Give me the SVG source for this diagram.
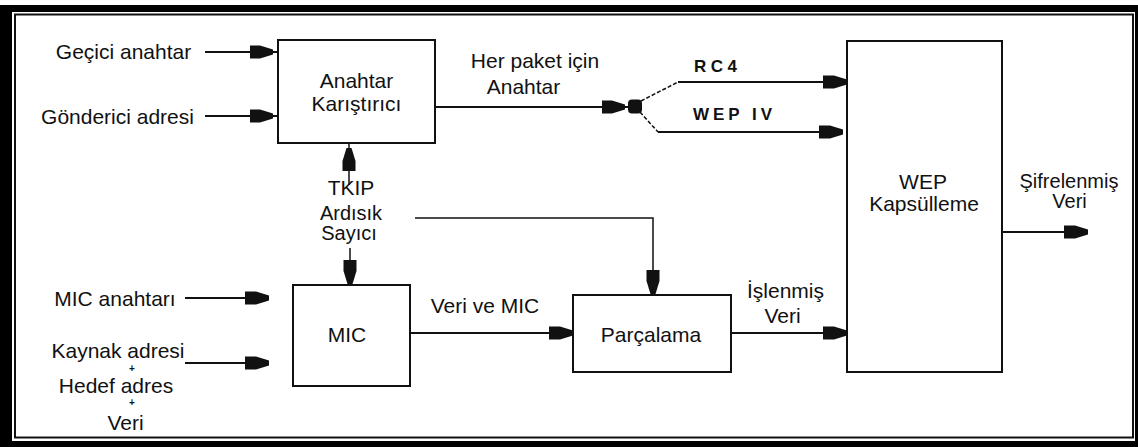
<svg xmlns="http://www.w3.org/2000/svg" width="1138" height="447" viewBox="0 0 1138 447">
<style>
  text { font-family: "Liberation Sans", Arial, sans-serif; font-size: 21px; fill: #111; text-anchor: middle; }
  .small { font-size: 10px; font-weight: bold; }
  .tight { font-size: 20px; }
  .px { font-weight: bold; font-size: 17px; text-anchor: start; }
  .box { fill: #fff; stroke: #111; stroke-width: 2; }
  .ln { fill: none; stroke: #111; stroke-width: 2; }
  .thin { fill: none; stroke: #111; stroke-width: 1.5; }
  .dash { fill: none; stroke: #111; stroke-width: 1.5; stroke-dasharray: 4 2; }
</style>
<defs>
  <marker id="ah" markerWidth="30" markerHeight="16" viewBox="-28 -8 30 16" refX="0" refY="0" orient="auto" markerUnits="userSpaceOnUse">
    <path d="M-24,-6.5 H-13 L0,-2.5 V2.5 L-13,6.5 H-24 Z" fill="#111"/>
  </marker>
  <marker id="ahg" markerWidth="34" markerHeight="16" viewBox="-32 -8 34 16" refX="0" refY="0" orient="auto" markerUnits="userSpaceOnUse">
    <path d="M-28,-6.5 H-18 L-5,-2.5 V2.5 L-18,6.5 H-28 Z" fill="#111"/>
  </marker>
</defs>
<rect x="0" y="0" width="1138" height="447" fill="#fff"/>
<g id="frame">
  <rect x="0" y="5" width="1138" height="442" fill="#000"/>
  <rect x="12" y="12" width="1123" height="429" fill="#fff"/>
  <rect x="15" y="14.5" width="1118" height="423" fill="#fff" stroke="#111" stroke-width="2"/>
</g>
<g id="connectors">
  <line class="ln" x1="205" y1="52" x2="278" y2="52" marker-end="url(#ahg)"/>
  <line class="ln" x1="205" y1="116" x2="278" y2="116" marker-end="url(#ahg)"/>
  <line class="ln" x1="435" y1="107" x2="630" y2="107" marker-end="url(#ahg)"/>
  <rect x="628" y="99.5" width="14" height="14" rx="4" fill="#111"/>
  <line class="dash" x1="641" y1="101" x2="678" y2="82"/>
  <line class="ln" x1="678" y1="82" x2="847" y2="82" marker-end="url(#ah)"/>
  <line class="dash" x1="640" y1="112" x2="658" y2="132"/>
  <line class="ln" x1="658" y1="132" x2="843" y2="132" marker-end="url(#ah)"/>
  <line class="thin" x1="349" y1="185" x2="349" y2="143" marker-end="url(#ahg)"/>
  <line class="thin" x1="350" y1="248" x2="350" y2="284" marker-end="url(#ah)"/>
  <line class="ln" x1="185" y1="298" x2="269" y2="298" marker-end="url(#ah)"/>
  <line class="ln" x1="185" y1="363" x2="269" y2="363" marker-end="url(#ah)"/>
  <line class="ln" x1="410" y1="333" x2="573" y2="333" marker-end="url(#ah)"/>
  <path class="thin" d="M415,218 H653 V294" marker-end="url(#ah)"/>
  <line class="ln" x1="731" y1="333" x2="847" y2="333" marker-end="url(#ah)"/>
  <line class="ln" x1="1002" y1="232" x2="1088" y2="232" marker-end="url(#ah)"/>
</g>
<g id="anahtar-karistirici">
  <rect class="box" x="278" y="40" width="157" height="103"/>
  <text x="356.5" y="88">Anahtar</text>
  <text x="356.5" y="111">Karıştırıcı</text>
</g>
<g id="mic">
  <rect class="box" x="293" y="285" width="117" height="101"/>
  <text x="347" y="342" font-size="19">MIC</text>
</g>
<g id="parcalama">
  <rect class="box" x="573" y="295" width="158" height="77"/>
  <text x="651" y="342">Parçalama</text>
</g>
<g id="wep-kapsulleme">
  <rect class="box" x="847" y="41" width="155" height="331"/>
  <text x="923" y="189">WEP</text>
  <text x="924" y="211">Kapsülleme</text>
</g>
<g id="labels">
  <text x="123.5" y="59">Geçici anahtar</text>
  <text x="117.5" y="124">Gönderici adresi</text>
  <text x="535" y="68">Her paket için</text>
  <text x="523.5" y="94">Anahtar</text>
  <text class="px" x="694" y="72" textLength="43" lengthAdjust="spacing">RC4</text>
  <text class="px" x="693" y="120" textLength="79" lengthAdjust="spacing">WEP IV</text>
  <text x="351" y="195">TKIP</text>
  <text class="tight" x="351" y="220">Ardısık</text>
  <text class="tight" x="349" y="240">Sayıcı</text>
  <text x="115" y="306">MIC anahtarı</text>
  <text x="118" y="358">Kaynak adresi</text>
  <text class="small" x="132" y="372">+</text>
  <text x="116" y="393">Hedef adres</text>
  <text class="small" x="132" y="406">+</text>
  <text x="125.5" y="430">Veri</text>
  <text x="485" y="313">Veri ve MIC</text>
  <text x="785.5" y="298">İşlenmiş</text>
  <text x="782.5" y="323">Veri</text>
  <text class="tight" x="1069" y="188">Şifrelenmiş</text>
  <text class="tight" x="1069.5" y="208">Veri</text>
</g>
</svg>
